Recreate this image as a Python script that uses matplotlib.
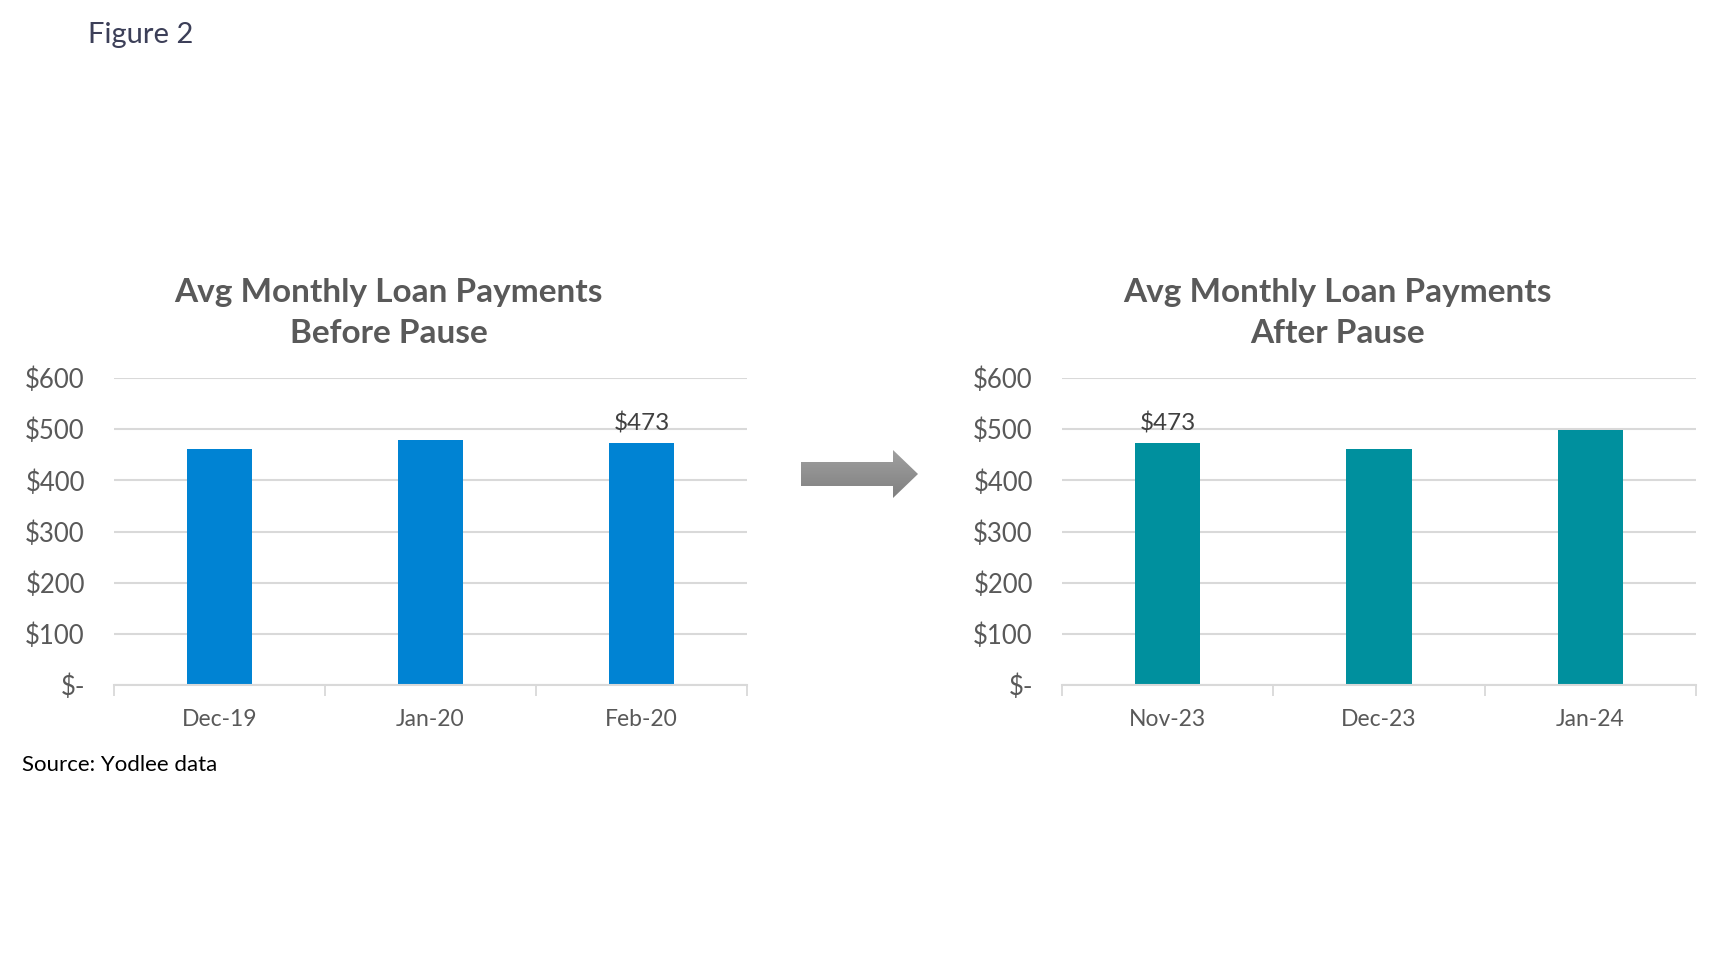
import matplotlib
matplotlib.use("Agg")
import matplotlib.pyplot as plt
import numpy as np
from matplotlib.patches import Polygon
from matplotlib.colors import LinearSegmentedColormap

# ---- data ----
before_cats = ["Dec-19", "Jan-20", "Feb-20"]
before_vals = [461, 479, 473]
after_cats = ["Nov-23", "Dec-23", "Jan-24"]
after_vals = [473, 462, 499]
yticks = [0, 100, 200, 300, 400, 500, 600]
ytick_labels = ["$-", "$100", "$200", "$300", "$400", "$500", "$600"]
title_before = "Avg Monthly Loan Payments\nBefore Pause"
title_after = "Avg Monthly Loan Payments\nAfter Pause"

FONT = "Lato"
GRID = "#d9d9d9"
TXT = "#595959"

W, H = 1718, 964
fig = plt.figure(figsize=(W / 100, H / 100), dpi=100)
fig.patch.set_facecolor("white")


def px_axes(x0, x1, ytop, ybot):
    return fig.add_axes([x0 / W, 1 - ybot / H, (x1 - x0) / W, (ybot - ytop) / H])


def draw_panel(ax, cats, vals, color, title, label_idx):
    x = np.arange(len(cats))
    ax.bar(x, vals, width=0.31, color=color, zorder=3)
    ax.set_xlim(-0.5, len(cats) - 0.5)
    ax.set_ylim(0, 600)
    ax.set_yticks(yticks)
    ax.set_yticklabels(ytick_labels, fontfamily=FONT, fontsize=18.5, color=TXT)
    ax.set_xticks(x)
    ax.set_xticklabels(cats, fontfamily=FONT, fontsize=16.5, color=TXT)
    ax.set_xticks(np.arange(len(cats) + 1) - 0.5, minor=True)
    ax.tick_params(axis="x", which="major", length=0, pad=17)
    ax.tick_params(axis="x", which="minor", length=8, color=GRID, width=1.3)
    ax.tick_params(axis="y", length=0, pad=21)
    ax.grid(axis="y", color=GRID, linewidth=1.5, zorder=0)
    for s in ["top", "right", "left"]:
        ax.spines[s].set_visible(False)
    ax.spines["bottom"].set_color(GRID)
    ax.spines["bottom"].set_linewidth(1.5)
    ax.spines["bottom"].set_zorder(4)
    ax.text(0.434, 1.212, title, transform=ax.transAxes, ha="center", va="center",
            fontfamily=FONT, fontweight="bold", fontsize=24, color=TXT,
            linespacing=1.47, multialignment="center")
    v = vals[label_idx]
    ax.annotate(f"${v}", (label_idx, v), xytext=(0, 6), textcoords="offset points",
                ha="center", va="bottom", fontfamily=FONT, fontsize=17.5, color="#404040")


ax1 = px_axes(114, 747, 378, 685)
draw_panel(ax1, before_cats, before_vals, "#0083D3", title_before, 2)
ax2 = px_axes(1062, 1696, 378, 685)
draw_panel(ax2, after_cats, after_vals, "#00909E", title_after, 0)

# overlay for decorations (arrow)
ov = fig.add_axes([0, 0, 1, 1], zorder=-1)
ov.set_xlim(0, W)
ov.set_ylim(H, 0)
ov.axis("off")
arrow_pts = [(801, 462), (893, 462), (893, 450), (918, 474), (893, 498), (893, 486), (801, 486)]
poly = Polygon(arrow_pts, closed=True, facecolor="none", edgecolor="none")
ov.add_patch(poly)
grad = np.linspace(0, 1, 100).reshape(-1, 1)
cmap = LinearSegmentedColormap.from_list("g", ["#a0a0a0", "#808080"])
im = ov.imshow(grad, cmap=cmap, extent=(801, 918, 498, 450), aspect="auto", origin="upper")
im.set_clip_path(poly)

fig.text(88 / W, 1 - 35 / H, "Figure 2", fontfamily=FONT, fontsize=21,
         color="#3c3f58", ha="left", va="center")
fig.text(22 / W, 1 - 765 / H, "Source: Yodlee data", fontfamily=FONT, fontsize=16,
         color="black", ha="left", va="center")

fig.savefig("out.png", dpi=100, facecolor="white")
